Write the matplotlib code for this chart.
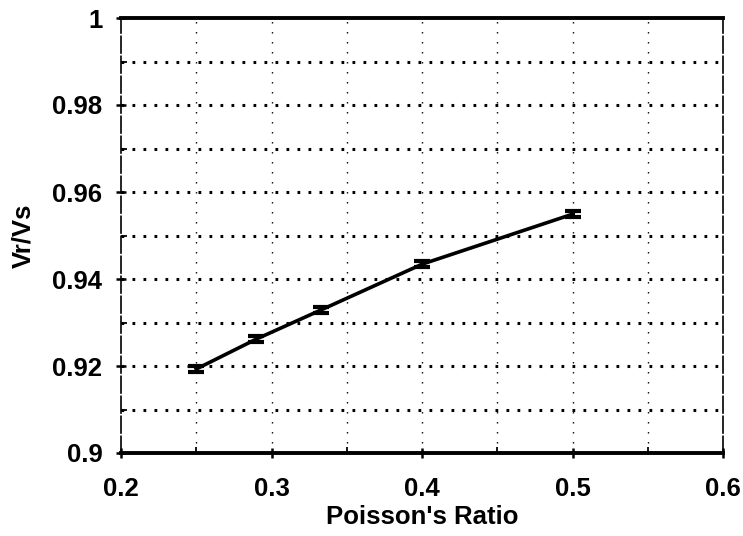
import matplotlib
matplotlib.use("Agg")
import matplotlib.pyplot as plt
from matplotlib.ticker import MultipleLocator, FixedLocator

# Rayleigh-to-shear velocity ratio against Poisson's ratio
poisson = [0.25, 0.29, 0.333, 0.40, 0.50]
vr_vs = [0.9193, 0.9262, 0.9329, 0.9434, 0.9549]
err = [0.0007, 0.0007, 0.0007, 0.0007, 0.0007]

x_ticks = [0.2, 0.3, 0.4, 0.5, 0.6]
x_tick_labels = ["0.2", "0.3", "0.4", "0.5", "0.6"]
y_ticks = [0.9, 0.92, 0.94, 0.96, 0.98, 1.0]
y_tick_labels = ["0.9", "0.92", "0.94", "0.96", "0.98", "1"]
x_grid = [0.25, 0.3, 0.35, 0.4, 0.45, 0.5, 0.55]
y_grid = [0.91, 0.92, 0.93, 0.94, 0.95, 0.96, 0.97, 0.98, 0.99]

plt.rcParams["font.family"] = ["Liberation Sans", "DejaVu Sans"]
plt.rcParams["font.weight"] = "bold"

fig = plt.figure(figsize=(7.43, 5.36), dpi=100)
ax = fig.add_axes([121 / 743, 1 - 453 / 536, 602 / 743, 435 / 536])

ax.set_xlim(0.2, 0.6)
ax.set_ylim(0.9, 1.0)

# grid: heavy dots horizontally, fine dots vertically
for gy in y_grid:
    ax.axhline(gy, color="black", lw=2.2, linestyle=(0, (0.9, 2.7)), zorder=1)
for gx in x_grid:
    ax.axvline(gx, color="black", lw=1.0, linestyle=(0, (1.0, 6.2)), zorder=1)

ax.errorbar(poisson, vr_vs, yerr=err, color="black", lw=2.6,
            elinewidth=2.2, capsize=5.5, capthick=3.0, zorder=3)

ax.spines["top"].set_linewidth(2.8)
ax.spines["bottom"].set_linewidth(2.8)
ax.spines["left"].set_linewidth(1.2)
ax.spines["left"].set_linestyle((0, (10, 2)))
ax.spines["right"].set_linewidth(1.2)
ax.spines["right"].set_linestyle((0, (10, 2)))

ax.xaxis.set_major_locator(FixedLocator(x_ticks))
ax.set_xticklabels(x_tick_labels)
ax.yaxis.set_major_locator(FixedLocator(y_ticks))
ax.set_yticklabels(y_tick_labels)
ax.yaxis.set_minor_locator(MultipleLocator(0.01))
ax.xaxis.set_minor_locator(MultipleLocator(0.05))

ax.tick_params(axis="both", which="major", direction="inout", length=7,
               width=1.8, labelsize=18.5, colors="black")
ax.tick_params(axis="both", which="minor", direction="in", length=4, width=1.3)
ax.tick_params(axis="x", which="major", pad=14)
ax.tick_params(axis="y", which="major", pad=10)

ax.set_xlabel("Poisson's Ratio", fontsize=18.5, fontweight="bold", labelpad=3)
ax.set_ylabel("Vr/Vs", fontsize=18.5, fontweight="bold", labelpad=12)

fig.savefig("out.png", dpi=100)
